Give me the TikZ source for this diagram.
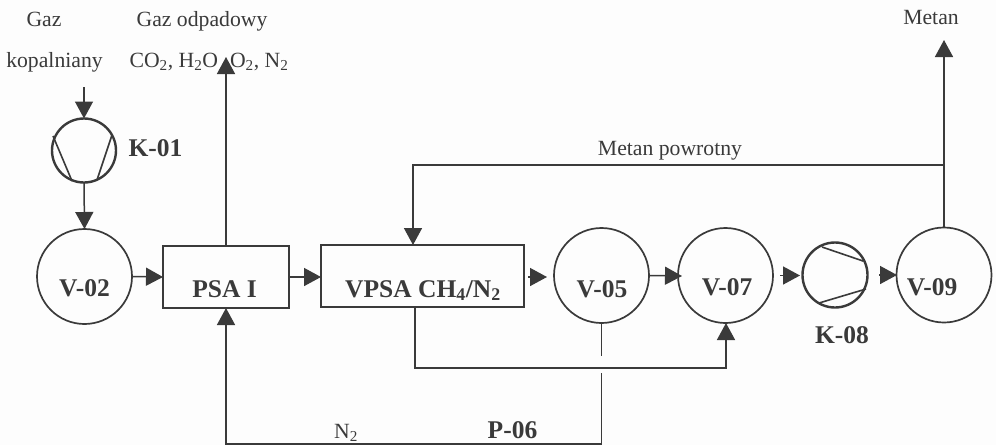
\documentclass[tikz,border=0pt]{standalone}
\usepackage{fontspec}
\setmainfont{Liberation Serif}
\usetikzlibrary{arrows.meta}
\definecolor{ink}{HTML}{3A3A3A}
\definecolor{paper}{HTML}{FDFDFD}
\tikzset{
 vessel/.style={circle,draw=ink,line width=1.7pt,minimum size=95pt,inner sep=0pt,outer sep=0pt},
 comp/.style={circle,draw=ink,line width=2.4pt,minimum size=64pt,inner sep=0pt,outer sep=0pt},
 unit/.style={rectangle,draw=ink,line width=1.7pt,inner sep=0pt,outer sep=0pt},
 blade/.style={draw=ink,line width=1.6pt},
 flow/.style={draw=ink,line width=1.5pt},
 flowarr/.style={flow,-{Triangle[length=17pt,width=18pt,fill=ink]}},
 boldlab/.style={text=ink,font=\bfseries\fontsize{25.5}{27}\selectfont,inner sep=0pt,anchor=base},
 lab/.style={text=ink,font=\fontsize{21.7}{24}\selectfont,inner sep=0pt,anchor=base},
}
\begin{document}
\begin{tikzpicture}[x=1pt,y=-1pt]
\path[use as bounding box,fill=paper] (0,0) rectangle (996,445);
% vessels and units
\node[comp] (k01) at (84,150.5) {};
\node[vessel] (v02) at (84.5,276.5) {};
\node[unit,minimum width=126pt,minimum height=62pt] (psa) at (226,277) {};
\node[unit,minimum width=203pt,minimum height=62pt] (vpsa) at (422.5,276) {};
\node[vessel] (v05) at (601.5,275.5) {};
\node[vessel] (v07) at (725.5,275.5) {};
\node[comp,minimum size=65pt] (k08) at (835,275) {};
\node[vessel] (v09) at (944,275) {};
% compressor blades
\draw[blade] (53,136) -- (72,181) (112,135) -- (97,180);
\draw[blade] (822,247) -- (863,261) (819,303) -- (866,289);
% free ends
\coordinate (kin) at (84,87);
\coordinate (wasteout) at (226,57);
\coordinate (methout) at (944,40);
\coordinate (retcorner) at (413,165);
\coordinate (retjoin) at (944,165);
\coordinate (vstub) at (601.5,356);
\coordinate (vstart) at (601.5,373);
\coordinate (pcorner) at (601.5,444);
\coordinate (ncorner) at (226,444);
\coordinate (bcorner) at (415,368);
\coordinate (bcorner2) at (726,368);
\coordinate (a1s) at (528,277);
\coordinate (a1e) at (547,277);
\coordinate (a2s) at (780,275.5);
\coordinate (a2e) at (800,275.5);
\coordinate (a3s) at (879,275);
\coordinate (a3e) at (897,275);
\coordinate (pin) at (226,308);
\coordinate (v07in) at (726,323);
\coordinate (v07tip) at (682,276);
\coordinate (vpsatop) at (413,245);
\coordinate (vpsabot) at (415,307);
% connectors
\draw[flowarr] (kin) -- (k01.north);
\draw[flowarr] (k01.south) -- (v02.north);
\draw[flowarr] (v02.east) -- (psa.west);
\draw[flowarr] (psa.east) -- (psa.east -| vpsa.west);
\draw[flowarr] (psa.north) -- (wasteout);
\draw[flowarr] (a1s) -- (a1e);
\draw[flowarr] (v05.east) -- (v07tip);
\draw[flowarr] (a2s) -- (a2e);
\draw[flowarr] (a3s) -- (a3e);
\draw[flowarr] (v09.north) -- (methout);
\draw[flowarr] (retjoin) -- (retcorner) -- (vpsatop);
\draw[flowarr] (vpsabot) -- (bcorner) -- (bcorner2) -- (v07in);
\draw[flow] (v05.south) -- (vstub);
\draw[flowarr] (vstart) -- (pcorner) -- (ncorner) -- (pin);
% labels
\node[lab] (t1) at (44,26) {Gaz};
\node[lab] (t2) at (202,26) {Gaz odpadowy};
\node[lab] (t3) at (54.5,67) {kopalniany};
\node[lab] (t4) at (209,67) {CO\textsubscript{2}, H\textsubscript{2}O\hspace{0.55em}O\textsubscript{2}, N\textsubscript{2}};
\node[lab] (t5) at (931,24) {Metan};
\node[lab] (t6) at (670,155) {Metan powrotny};
\node[lab] (t7) at (346,438) {N\textsubscript{2}};
\node[boldlab] (l1) at (155.5,156) {K-01};
\node[boldlab] (l2) at (84.5,296) {V-02};
\node[boldlab] (l3) at (224.5,297) {PSA I};
\node[boldlab] (l4) at (423,297) {VPSA CH\textsubscript{4}/N\textsubscript{2}};
\node[boldlab] (l5) at (602,297) {V-05};
\node[boldlab] (l6) at (727,295) {V-07};
\node[boldlab] (l7) at (932,295) {V-09};
\node[boldlab] (l8) at (842,343) {K-08};
\node[boldlab] (l9) at (512.5,438) {P-06};
\end{tikzpicture}
\end{document}
